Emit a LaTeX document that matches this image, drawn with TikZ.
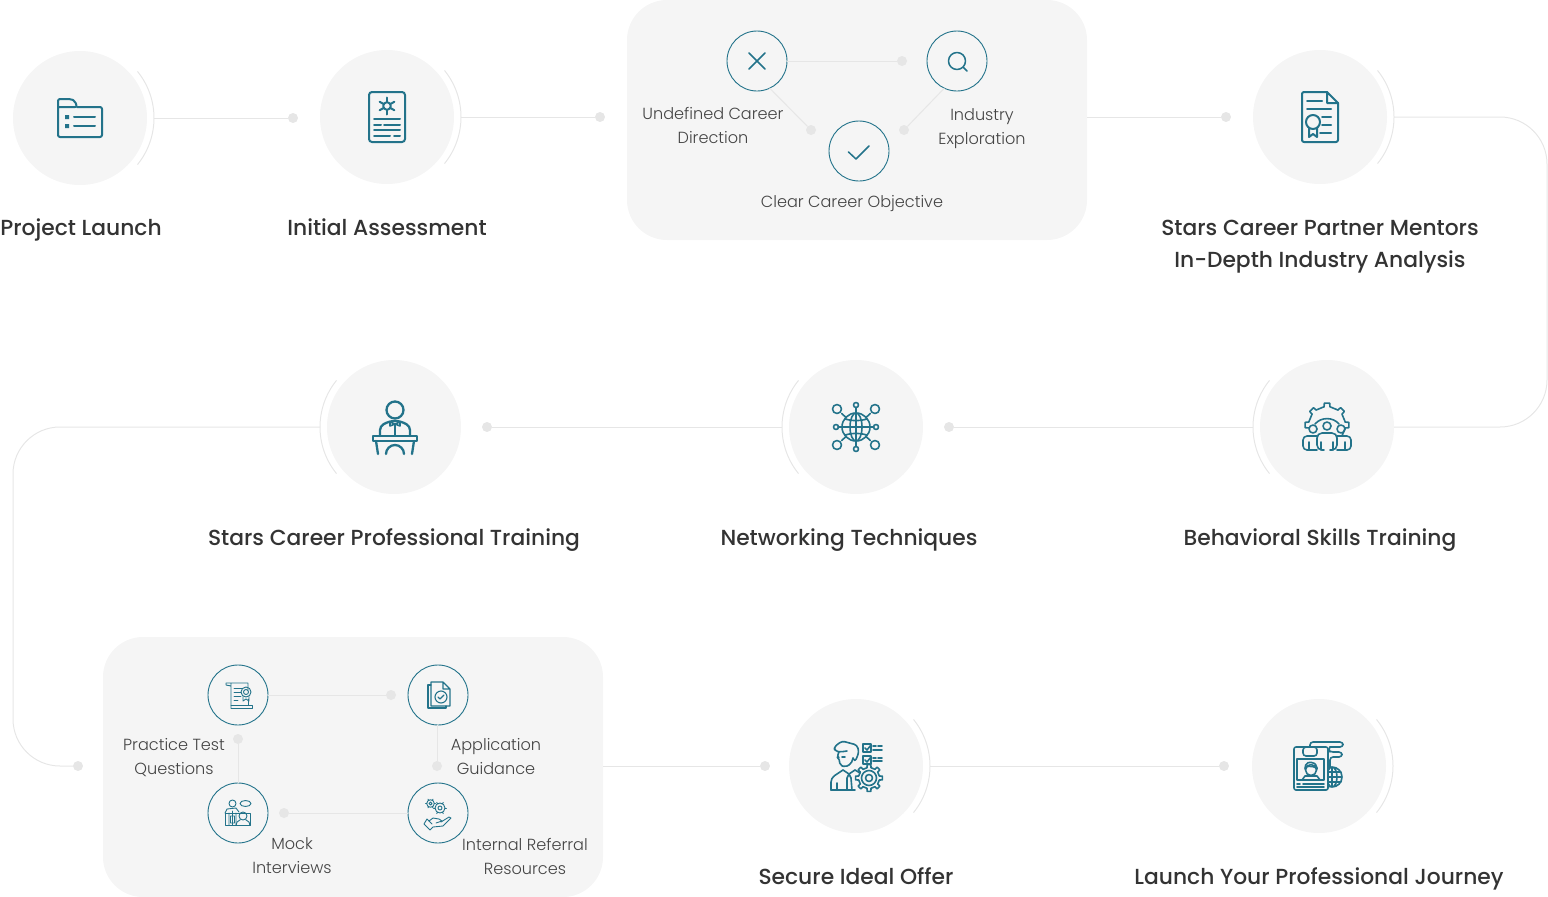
\documentclass[tikz,border=0pt]{standalone}
\usepackage{fontspec}
\setmainfont{Poppins}
\newfontfamily\titlefont{Poppins Medium}
\newfontfamily\subfont{Poppins Light}
\usetikzlibrary{positioning}
\definecolor{iconteal}{HTML}{23738A}
\definecolor{discgrey}{HTML}{F5F5F5}
\definecolor{linkgrey}{HTML}{E6E6E6}
\definecolor{titleink}{HTML}{333333}
\definecolor{subink}{HTML}{444444}
\tikzset{
    stepdisc/.style={circle,fill=discgrey,minimum size=134pt,inner sep=0pt,outer sep=7pt},
    stepring/.style={circle,draw=iconteal,line width=0.9pt,minimum size=60pt,inner sep=0pt,outer sep=0pt},
    panelbox/.style={fill=discgrey,rounded corners=40pt,inner sep=0pt,outer sep=0pt},
    linkdot/.style={circle,fill=linkgrey,minimum size=10pt,inner sep=0pt},
    link/.style={draw=linkgrey,line width=1pt},
    arcline/.style={draw=linkgrey,line width=1pt},
    steptitle/.style={font=\titlefont\fontsize{21.8}{32}\selectfont,text=titleink,align=center,inner sep=0pt},
    sublabel/.style={font=\subfont\fontsize{16.1}{24}\selectfont,text=subink,align=center,inner sep=0pt},
    ico/.style={draw=iconteal,line width=2pt,line join=round,line cap=round},
    icomid/.style={draw=iconteal,line width=1.6pt,line join=round,line cap=round},
    icothin/.style={draw=iconteal,line width=0.9pt,line join=round,line cap=round},
    folderpic/.pic={
        \draw[ico,rounded corners=2pt] (-3,-11) -- (22,-11) -- (22,19) -- (-22,19) -- (-22,-19) -- (-9,-19) -- (-5,-17) -- (-3,-11) -- (-22,-11);
        \draw[ico] (-6,-1) -- (15,-1) (-6,8) -- (15,8);
        \fill[iconteal] (-15,-3) rectangle (-11,1) (-15,6) rectangle (-11,10);
    },
    reportpic/.pic={
        \draw[ico,rounded corners=3pt] (-18,-25) rectangle (18,25);
        \draw[ico] (0,-11) circle (3.8);
        \foreach \a in {30,90,...,330}
            \draw[ico] ([shift={(0,-11)}]\a:4) -- ([shift={(0,-11)}]\a:8.5);
        \draw[ico] (-13,2) -- (13,2) (-13,8) -- (-6,8) (-3,8) -- (13,8) (-13,13) -- (13,13) (-13,19) -- (3,19) (7,19) -- (13,19);
    },
    certpic/.pic={
        \draw[ico,rounded corners=2pt] (7,-25) -- (-18,-25) -- (-18,25) -- (18,25) -- (18,-14);
        \draw[ico] (7,-25) -- (18,-14) -- (7,-14) -- cycle;
        \draw[ico] (-13,-16) -- (2,-16) (-13,-8) -- (11,-8);
        \draw[ico] (-7,5) circle (7);
        \draw[ico] (-11,11) -- (-11,20) -- (-7,17) -- (-3,20) -- (-3,11);
        \draw[ico] (2,0) -- (11,0) (2,8) -- (11,8) (0,16) -- (11,16);
    },
    teampic/.pic={
        \foreach \a in {-180,-135,...,0}
            \draw[icomid] ([shift={(0,-2)}]\a-9:18.5) -- ([shift={(0,-2)}]\a-7:22) -- ([shift={(0,-2)}]\a+7:22) -- ([shift={(0,-2)}]\a+9:18.5) -- ([shift={(0,-2)}]\a+36:18.5);
        \draw[icomid] (-12,-3) to[bend left=50] (12,-3);
        \draw[icomid] (0,-1) circle (4) (-14,2) circle (4) (14,2) circle (4);
        \draw[icomid,rounded corners=4pt] (-10,23) -- (-24,23) -- (-24,9) -- (-10,9);
        \draw[icomid,rounded corners=4pt] (10,23) -- (24,23) -- (24,9) -- (10,9);
        \draw[icomid,rounded corners=5pt] (-3,23) -- (-10,23) -- (-10,6) -- (10,6) -- (10,23) -- (3,23);
        \draw[icomid] (-18,15) -- (-18,23) (18,15) -- (18,23) (-6,15) -- (-6,23) (6,15) -- (6,23);
    },
    netpic/.pic={
        \draw[icomid] (0,0) circle (14);
        \draw[icomid] (0,0) ellipse (6 and 14);
        \draw[icomid] (0,-14) -- (0,14) (-18,0) -- (18,0);
        \draw[icomid] (-11,-8) to[bend right=15] (11,-8) (-11,8) to[bend left=15] (11,8);
        \foreach \x/\y in {-19/-18,19/-18,-19/18,19/18}{
            \draw[icomid] (\x,\y) circle (4.5);
            \draw[icomid] (0.75*\x,0.75*\y) -- (0.5*\x,0.5*\y);
        }
        \foreach \x/\y in {0/-22,0/22,-20/0,20/0}
            \draw[icomid] (\x,\y) circle (2.5);
        \draw[icomid] (0,-19.5) -- (0,-14) (0,19.5) -- (0,14);
    },
    speakerpic/.pic={
        \draw[ico,line width=2.3pt] (1,-17) ellipse (8.5 and 8.5);
        \draw[ico,line width=2.3pt,rounded corners=4pt] (-14,9) -- (-14,-1) -- (-4,-6) -- (6,-6) -- (16,-1) -- (16,9);
        \draw[icomid] (-4,-5) -- (6,-1) -- (6,-5) -- (-4,-1) -- cycle;
        \draw[icomid] (1,-3) -- (1,9);
        \draw[ico,line width=2.3pt] (-21,9) rectangle (23,14);
        \draw[ico,line width=2.3pt] (-18,14) -- (-16,27) (20,14) -- (18,27);
        \draw[ico,line width=2.3pt] (-8,27) arc[start angle=180,end angle=360,radius=9];
    },
    offerpic/.pic={
        \draw[icomid,rounded corners=3pt] (-3,-8) -- (-1,-4) -- (3,-14) -- (1,-21) -- (-14,-25) -- (-22,-19) -- (-21,-15) -- (-16,-14) -- (-9,-15);
        \draw[icomid,rounded corners=2pt] (-17,-14) -- (-19,-9) -- (-17,-8) -- (-16,-1) -- (-11,1) -- (-5,-2) -- (-3,-8);
        \draw[icomid] (-14,-9) -- (-11,-9);
        \draw[icomid,rounded corners=4pt] (-25,24) -- (-25,12) -- (-13,4) (-1,4) -- (4,7);
        \draw[icomid] (-25,24) -- (-1,24) (-13,4) -- (-7,8) -- (-1,4) (-7,8) -- (-9,12) -- (-9,24) (-7,8) -- (-5,12) -- (-4,24) (-19,17) -- (-19,24);
        \draw[icomid] (13,12) circle (7.5) (13,12) circle (3.5);
        \foreach \a in {0,45,...,315}
            \draw[icomid] ([shift={(13,12)}]\a-11:10.5) -- ([shift={(13,12)}]\a-8:13.5) -- ([shift={(13,12)}]\a+8:13.5) -- ([shift={(13,12)}]\a+11:10.5) -- ([shift={(13,12)}]\a+34:10.5);
        \draw[icomid] (7,-22) rectangle (15,-14) (7,-10) rectangle (15,-2);
        \draw[icomid] (9,-18) -- (11,-16) -- (15,-21) (9,-6) -- (11,-4) -- (15,-9);
        \draw[icomid] (17,-20) -- (20,-20) (22,-20) -- (26,-20) (17,-16) -- (26,-16) (17,-8) -- (20,-8) (22,-8) -- (26,-8) (17,-5) -- (26,-5);
    },
    idcardpic/.pic={
        \begin{scope}
            \clip (10,-10) rectangle (40,30);
            \draw[icomid] (13,11) circle (10) (13,11) ellipse (5 and 10) (13,1) -- (13,21) (9,6) -- (22,6) (9,11) -- (23,11) (9,16) -- (22,16);
        \end{scope}
        \draw[icomid,rounded corners=2pt] (-25,-19) rectangle (9,24);
        \draw[icomid,fill=discgrey,rounded corners=3pt] (-16,-19) rectangle (-2,-10);
        \draw[icomid] (-22,-7) rectangle (5,14);
        \draw[icomid] (-8,4) circle (5.5);
        \draw[icomid,rounded corners=2pt] (-14,3) -- (-13,-3) -- (-6,-4) -- (-2,0) -- (-2,3) (-14,1) -- (-8,0) -- (-2,2);
        \draw[icomid] (-17,14) -- (-14,10) -- (-2,10) -- (1,14);
        \draw[icomid] (-22,18) -- (-19,18) (-22,21) -- (5,21) (-16,18) -- (5,18);
        \draw[icomid,rounded corners=3pt] (-9,-19) -- (-9,-24) -- (24,-24) -- (24,-19) -- (11,-19);
        \draw[icomid,rounded corners=3pt] (11,-19) -- (9,-16.5) -- (11,-14) -- (23,-14) -- (23,-9) -- (11,-9) -- (11,1);
    },
    crosspic/.pic={\draw[ico,line width=1.5pt] (-8,-8) -- (8,8) (-8,8) -- (8,-8);},
    lenspic/.pic={\draw[ico,line width=1.5pt] (0,0) circle (8.5) (6,6) -- (10,10);},
    tickpic/.pic={\draw[ico,line width=1.5pt] (-10.5,1) -- (-3,8) (-3,8) -- (10,-5);},
    scrollpic/.pic={
        \draw[icothin] (-12,-12) -- (10,-12) -- (10,-5) (-12,-12) -- (-12,-10) -- (-7,-9) (-7,-12) -- (-7,13);
        \draw[icothin] (-7,10) -- (14,10) -- (14,13) -- (-7,13) (10,4) -- (10,10);
        \draw[icothin] (-4,-7) -- (5,-7) (-4,-3) -- (3,-3) (-4,1) -- (3,1) (-4,5) -- (0,5);
        \draw[icothin] (8,-3) circle (5) (8,-3) circle (2.5) (5,2) -- (5,6) -- (8,4) -- (11,6) -- (11,2);
    },
    docspic/.pic={
        \draw[icothin,line width=1.1pt] (-7,-13) -- (5,-13) -- (12,-6) -- (12,11) -- (-7,11) -- cycle (5,-13) -- (5,-6) -- (12,-6);
        \draw[icothin,line width=1.1pt] (-7,-10) -- (-10,-10) -- (-10,13) -- (8,13) -- (8,11);
        \draw[icothin,line width=1.1pt] (3,2) circle (6);
        \draw[icothin,line width=1.1pt] (0,2) -- (2,4) -- (6,0);
    },
    mockpic/.pic={
        \draw[icothin] (-5.5,-9.5) circle (3.5);
        \draw[icothin] (7.5,-9.5) ellipse (5.5 and 3) (-5.5,-2) -- (-5.5,12);
        \draw[icothin] (-13,0) -- (12.5,0) -- (12.5,12.5) -- (-13,12.5) -- cycle;
        \draw[icothin] (-13,0) -- (-11,-4) -- (-2,-5) -- (1,-1) (-9,0) -- (-9,12) (-2,0) -- (-2,12) (-7.5,3) rectangle (-3.5,10);
        \draw[icothin] (5,3) circle (4) (-2,12.5) -- (-1,9) -- (2,7) (8,7) -- (11,9) -- (12,12.5);
    },
    handgearpic/.pic={
        \draw[icothin] (-7.5,-9.5) circle (3.8) (-7.5,-9.5) circle (1.6);
        \draw[icothin] (2,-5) circle (5) (2,-5) circle (2);
        \foreach \a in {0,60,...,300}{
            \draw[icothin] ([shift={(-7.5,-9.5)}]\a:3.8) -- ([shift={(-7.5,-9.5)}]\a:5);
            \draw[icothin] ([shift={(2,-5)}]\a:5) -- ([shift={(2,-5)}]\a:6.5);
        }
        \draw[icothin] (-9,8) -- (-5,5) -- (1,6) -- (4,8) -- (-2,10);
        \draw[icothin] (3,9) -- (11,4) -- (13,5) -- (5,13) -- (-5,14) -- (-8,17) -- (-14,11) -- (-11,6) -- (-6,11);
    },
}
\begin{document}
\begin{tikzpicture}[x=1pt,y=-1pt]
    \useasboundingbox (0,0) rectangle (1548,897);

    \node[panelbox,minimum width=460pt,minimum height=240pt] (c1) at (857,120) {};
    \node[panelbox,minimum width=500pt,minimum height=260pt] (c2) at (353,767) {};

    \node[stepdisc] (n1) at (80,118) {};
    \node[stepdisc] (n2) at (387,117) {};
    \node[stepdisc] (n3) at (1320,117) {};
    \node[stepdisc] (n4) at (1327,427) {};
    \node[stepdisc] (n5) at (856,427) {};
    \node[stepdisc] (n6) at (394,427) {};
    \node[stepdisc] (n7) at (856,766) {};
    \node[stepdisc] (n8) at (1319,766) {};

    \node[linkdot] (d1) at (293,118) {};
    \node[linkdot] (d2) at (600,117) {};
    \node[linkdot] (d3) at (1226,117) {};
    \node[linkdot] (d4) at (949,427) {};
    \node[linkdot] (d5) at (487,427) {};
    \node[linkdot] (d6) at (78,766) {};
    \node[linkdot] (d7) at (765,766) {};
    \node[linkdot] (d8) at (1224,766) {};

    \coordinate (bend1) at (1547,117);
    \coordinate (bend2) at (1547,427);
    \coordinate (edge4) at (1394,427);
    \coordinate (bend3) at (13,427);
    \coordinate (bend4) at (13,766);

    \draw[link] (n1) -- (d1);
    \draw[link] (n2) -- (d2);
    \draw[link] (d3 -| c1.east) -- (d3);
    \draw[link,rounded corners=47pt] (n3) -- (bend1) -- (bend2) -- (edge4);
    \draw[link] (n4) -- (d4);
    \draw[link] (n5) -- (d5);
    \draw[link,rounded corners=47pt] (n6) -- (bend3) -- (bend4) -- (d6);
    \draw[link] (d7 -| c2.east) -- (d7);
    \draw[link] (n7) -- (d8);

    \foreach \s in {n1,n2,n3,n7,n8}
        \draw[arcline] (\s.39) arc[start angle=-39,end angle=39,radius=74];
    \foreach \s in {n4,n5,n6}
        \draw[arcline] (\s.141) arc[start angle=-141,end angle=-219,radius=74];

    \node[stepring] (r1) at (757,61) {};
    \node[stepring] (r2) at (957,61) {};
    \node[stepring] (r3) at (859,151) {};
    \node[linkdot] (d9) at (902,61) {};
    \node[linkdot] (d10) at (811,130) {};
    \node[linkdot] (d11) at (904,130) {};
    \draw[link] (r1) -- (d9);
    \draw[link] (r1.-65) -- (d10);
    \draw[link] (r2.-115) -- (d11);

    \node[stepring] (r4) at (238,695) {};
    \node[stepring] (r5) at (438,695) {};
    \node[stepring] (r6) at (238,813) {};
    \node[stepring] (r7) at (438,813) {};
    \node[linkdot] (d12) at (391,695) {};
    \node[linkdot] (d13) at (238,739) {};
    \node[linkdot] (d14) at (437,766) {};
    \node[linkdot] (d15) at (284,813) {};
    \draw[link] (r4) -- (d12);
    \draw[link] (r6) -- (d13);
    \draw[link] (d14 |- r5.south) -- (d14);
    \draw[link] (r7) -- (d15);

    \pic at (n1) {folderpic};
    \pic at (n2) {reportpic};
    \pic at (n3) {certpic};
    \pic at (n4) {teampic};
    \pic at (n5) {netpic};
    \pic at (n6) {speakerpic};
    \pic at (n7) {offerpic};
    \pic at (n8) {idcardpic};
    \pic at (r1) {crosspic};
    \pic at (r2) {lenspic};
    \pic at (r3) {tickpic};
    \pic at (r4) {scrollpic};
    \pic at (r5) {docspic};
    \pic at (r6) {mockpic};
    \pic at (r7) {handgearpic};

    \node[steptitle] (t1) at (81,230) {Project Launch};
    \node[steptitle] (t2) at (387,227) {Initial Assessment};
    \node[steptitle] (t3) at (1320,247) {Stars Career Partner Mentors\\In-Depth Industry Analysis};
    \node[steptitle] (t4) at (1320,540) {Behavioral Skills Training};
    \node[steptitle] (t5) at (849,540) {Networking Techniques};
    \node[steptitle] (t6) at (394,540) {Stars Career Professional Training};
    \node[steptitle] (t7) at (856,876) {Secure Ideal Offer};
    \node[steptitle] (t8) at (1319,879) {Launch Your Professional Journey};

    \node[sublabel] (l1) at (713,125) {Undefined Career\\Direction};
    \node[sublabel] (l2) at (982,129) {Industry\\Exploration};
    \node[sublabel] (l3) at (852,204) {Clear Career Objective};
    \node[sublabel] (l4) at (174,758) {Practice Test\\Questions};
    \node[sublabel] (l5) at (496,757) {Application\\Guidance};
    \node[sublabel] (l6) at (292,856) {Mock\\Interviews};
    \node[sublabel] (l7) at (525,856) {Internal Referral\\Resources};
\end{tikzpicture}
\end{document}
